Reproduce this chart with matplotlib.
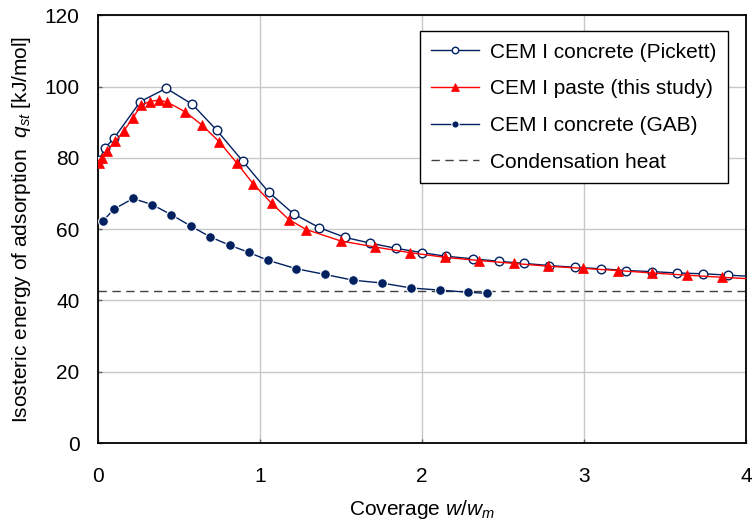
import matplotlib
matplotlib.use("Agg")
import matplotlib.pyplot as plt

plt.rcParams['font.family'] = ['Liberation Sans', 'DejaVu Sans']
plt.rcParams['mathtext.fontset'] = 'custom'
plt.rcParams['mathtext.rm'] = 'Liberation Sans'
plt.rcParams['mathtext.it'] = 'Liberation Sans:italic'

# Data
pickett_x = [0.01, 0.045, 0.10, 0.263, 0.423, 0.584, 0.735, 0.896, 1.054, 1.208, 1.368, 1.526,
             1.680, 1.843, 2.003, 2.149, 2.313, 2.473, 2.630, 2.786, 2.944, 3.104, 3.258,
             3.419, 3.577, 3.735, 3.891, 4.05]
pickett_y = [79.5, 82.8, 85.5, 95.8, 99.5, 95.0, 87.7, 79.0, 70.4, 64.3, 60.4, 57.7,
             56.1, 54.6, 53.4, 52.4, 51.7, 51.0, 50.4, 49.8, 49.3, 48.9, 48.4,
             48.1, 47.7, 47.5, 47.1, 46.7]

paste_x = [0.008, 0.025, 0.055, 0.109, 0.162, 0.218, 0.269, 0.320, 0.376, 0.430, 0.540,
           0.643, 0.750, 0.857, 0.961, 1.074, 1.179, 1.286, 1.499, 1.710, 1.927, 2.143,
           2.354, 2.566, 2.781, 2.995, 3.209, 3.422, 3.636, 3.850, 4.06]
paste_y = [78.5, 80.0, 81.9, 84.6, 87.6, 91.3, 94.8, 95.8, 96.2, 95.6, 92.9,
           89.2, 84.5, 78.6, 72.6, 67.2, 62.7, 59.9, 56.7, 55.0, 53.4, 52.1,
           51.2, 50.4, 49.6, 49.0, 48.4, 47.7, 47.1, 46.5, 46.0]

gab_x = [0.033, 0.099, 0.218, 0.335, 0.452, 0.577, 0.695, 0.814, 0.931, 1.048, 1.225,
         1.403, 1.574, 1.752, 1.933, 2.114, 2.285, 2.402]
gab_y = [62.3, 65.6, 68.6, 66.9, 64.1, 60.8, 57.8, 55.5, 53.5, 51.3, 48.9,
         47.3, 45.7, 44.9, 43.5, 42.9, 42.3, 42.0]

condensation_heat = 42.6

x_ticks = [0, 1, 2, 3, 4]
y_ticks = [0, 20, 40, 60, 80, 100, 120]

labels = ["CEM I concrete (Pickett)", "CEM I paste (this study)",
          "CEM I concrete (GAB)", "Condensation heat"]

navy = '#002060'
red = '#FF0000'

fig = plt.figure(figsize=(7.52, 5.25), dpi=100)
ax = fig.add_axes([0.130, 0.156, 0.862, 0.815])

ax.axhline(condensation_heat, color='#404040', lw=1.0, ls=(0, (6, 4)), label=labels[3], zorder=2)
l1, = ax.plot(pickett_x, pickett_y, color=navy, lw=1.0, marker='o', ms=6.2,
              mfc='white', mec=navy, mew=1.0, label=labels[0], zorder=3)
l2, = ax.plot(paste_x, paste_y, color=red, lw=1.0, marker='^', ms=7,
              mfc=red, mec=red, mew=0.5, label=labels[1], zorder=4)
l3, = ax.plot(gab_x, gab_y, color=navy, lw=1.0, marker='o', ms=7,
              mfc=navy, mec='white', mew=0.8, label=labels[2], zorder=3)

ax.set_xlim(0, 4)
ax.set_ylim(0, 120)
ax.set_xticks(x_ticks)
ax.set_yticks(y_ticks)
ax.grid(True, color='#c8c8c8', lw=1.0, zorder=0)
ax.set_axisbelow(True)
for s in ax.spines.values():
    s.set_color('black')
    s.set_linewidth(1.3)
ax.tick_params(axis='both', direction='in', length=3, width=1, color='#606060',
               labelsize=15)
ax.tick_params(axis='x', pad=17)
ax.tick_params(axis='y', pad=13)

ax.set_xlabel(r"Coverage $w/w_m$", fontsize=15, labelpad=9)
ax.set_ylabel(r"Isosteric energy of adsorption  $q_{st}$ [kJ/mol]", fontsize=15, labelpad=8)

handles = [l1, l2, l3, ax.lines[0]]
leg = ax.legend(handles, labels, loc='upper left', bbox_to_anchor=(0.497, 0.963),
                borderaxespad=0, fontsize=15, frameon=True, fancybox=False,
                edgecolor='black', framealpha=1, handlelength=2.3, labelspacing=0.85,
                handletextpad=0.5, borderpad=0.55, markerscale=0.75)
leg.get_frame().set_linewidth(1.0)

fig.savefig("out.png", dpi=100)
